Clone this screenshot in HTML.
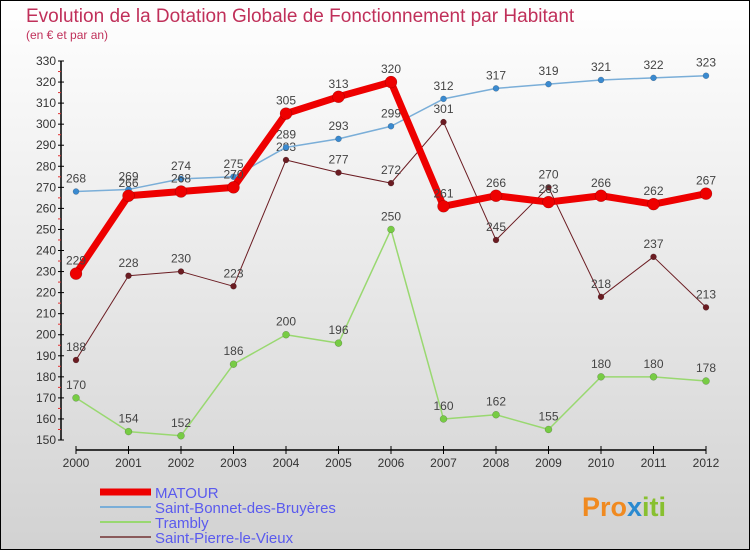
<!DOCTYPE html>
<html><head><meta charset="utf-8">
<style>
body{margin:0;width:750px;height:550px;overflow:hidden;font-family:"Liberation Sans",sans-serif;}
svg{display:block}
</style></head>
<body>
<svg id="chart" width="750" height="550" xmlns="http://www.w3.org/2000/svg">
<defs>
<linearGradient id="bg" x1="0" y1="0" x2="0" y2="1">
<stop offset="0" stop-color="#ffffff"/><stop offset="1" stop-color="#d2d2d2"/>
</linearGradient>
</defs>
<rect x="0.5" y="0.5" width="749" height="549" fill="url(#bg)" stroke="#000" stroke-width="1"/>
<text x="26" y="22" font-size="19" fill="#c0305a">Evolution de la Dotation Globale de Fonctionnement par Habitant</text>
<text x="26" y="39" font-size="12" fill="#c0305a">(en € et par an)</text>
<g id="axes"></g>
<g id="series"></g>
<g id="legend"></g>
<text x="582" y="516" font-size="27" font-weight="bold" fill="#f08a20">Pro<tspan fill="#2a8ad0">x</tspan><tspan fill="#88c030">iti</tspan></text>
</svg>
<script>
const years=["2000","2001","2002","2003","2004","2005","2006","2007","2008","2009","2010","2011","2012"];
const yTicks=[150,160,170,180,190,200,210,220,230,240,250,260,270,280,290,300,310,320,330];
const matour=[229,266,268,270,305,313,320,261,266,263,266,262,267];
const stBonnet=[268,269,274,275,289,293,299,312,317,319,321,322,323];
const trambly=[170,154,152,186,200,196,250,160,162,155,180,180,178];
const stPierre=[188,228,230,223,283,277,272,301,245,270,218,237,213];
const seriesNames=["MATOUR","Saint-Bonnet-des-Bruyères","Trambly","Saint-Pierre-le-Vieux"];

const NS="http://www.w3.org/2000/svg";
const x0=76,x1=706,yMin=150,yMax=330,py0=440,py1=61;
const X=i=>x0+(x1-x0)*i/(years.length-1);
const Y=v=>py0-(v-yMin)/(yMax-yMin)*(py0-py1);
function mk(tag,attrs,parent){const e=document.createElementNS(NS,tag);for(const k in attrs)e.setAttribute(k,attrs[k]);parent.appendChild(e);return e;}
const axes=document.getElementById('axes');
const yAxis=mk('line',{x1:61,y1:py1,x2:61,y2:py0,stroke:'#000','stroke-width':1.5},axes);


yTicks.forEach((t,i)=>{
  const y=Y(t);
  mk('line',{x1:58,y1:y,x2:64,y2:y,stroke:'#000'},axes);
  if(i<yTicks.length-1) mk('line',{x1:58,y1:Y(t+5),x2:61,y2:Y(t+5),stroke:'#e03030'},axes);
  const tx=mk('text',{x:56,y:y+4,'font-size':12,'text-anchor':'end',fill:'#333'},axes);
  
  
  tx.textContent=t;
});
const xAxis=mk('line',{x1:x0,y1:450,x2:x1,y2:450,stroke:'#000','stroke-width':1.5},axes);


years.forEach((yr,i)=>{
  mk('line',{x1:X(i),y1:446,x2:X(i),y2:454,stroke:'#000'},axes);
  const tx=mk('text',{x:X(i),y:467,'font-size':12,'text-anchor':'middle',fill:'#333'},axes);
  
  
  tx.textContent=yr;
});
const ser=document.getElementById('series');
const defs=[
 {d:stPierre,c:'#6b1c22',w:1,r:3,fill:'#6b1c22',name:'saint-pierre'},
 {d:trambly,c:'#99d870',w:1.5,r:3.5,fill:'#77cc44',name:'trambly'},
 {d:stBonnet,c:'#7aaed8',w:1.5,r:3,fill:'#3a8ad0',name:'saint-bonnet'},
 {d:matour,c:'#ee0000',w:7,r:6,fill:'#ee0000',name:'matour'}
];
defs.forEach(s=>{
  const g=mk('g',{},ser);
  
  
  const pl=mk('polyline',{points:s.d.map((v,i)=>X(i)+','+Y(v)).join(' '),fill:'none',stroke:s.c,'stroke-width':s.w,'stroke-linejoin':'round'},g);
  
  
  s.d.forEach((v,i)=>{
    const c=mk('circle',{cx:X(i),cy:Y(v),r:s.r,fill:s.fill,stroke:'rgba(0,0,0,0.3)','stroke-width':0.5},g);
    
    
    const t=mk('text',{x:X(i),y:Y(v)-9,'font-size':12,'text-anchor':'middle',fill:'#444'},g);
    
    
    t.textContent=v;
  });
});
const leg=document.getElementById('legend');
const lc=['#ee0000','#7aaed8','#99d870','#8a5a5a'],lw=[7,2,2,2];
seriesNames.forEach((n,i)=>{
  const y=492+i*15;
  const l=mk('line',{x1:100,y1:y,x2:151,y2:y,stroke:lc[i],'stroke-width':lw[i]},leg);
  
  
  const t=mk('text',{x:155,y:y+6,'font-size':15,fill:'#5a5aee'},leg);
  
  
  t.textContent=n;
});
</script>
</body></html>
